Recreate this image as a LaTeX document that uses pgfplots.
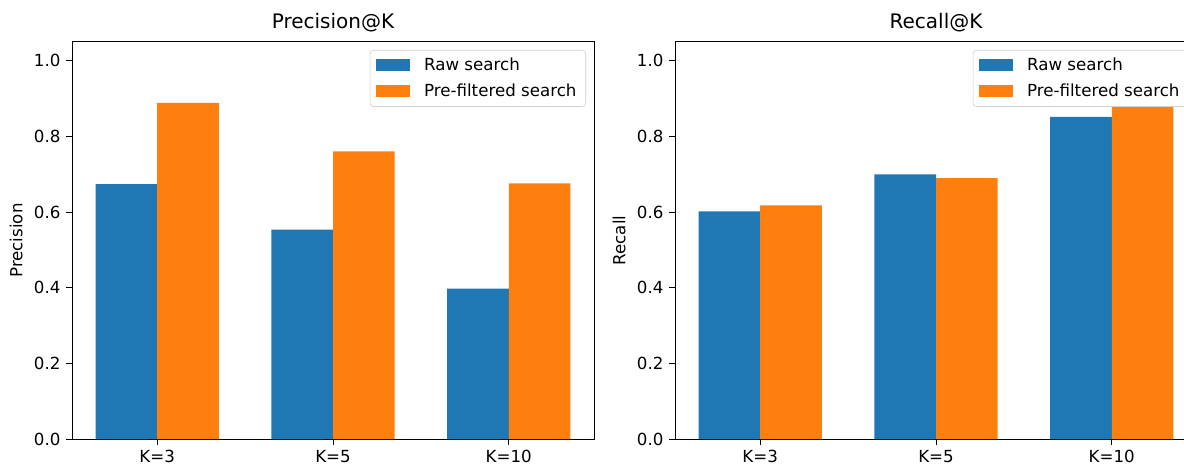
\documentclass[border=0pt]{standalone}
\usepackage{fontspec}
\setmainfont{DejaVu Sans}
\usepackage{pgfplots}
\pgfplotsset{compat=1.18}
\definecolor{cA}{HTML}{1F77B4}
\definecolor{cB}{HTML}{FF7F0E}
\pgfplotsset{
  myax/.style={
    scale only axis, width=313.2pt, height=238.2pt, anchor=south west,
    xmin=-0.485, xmax=2.485, ymin=0, ymax=1.05,
    xtick={0,1,2}, xticklabels={K=3,K=5,K=10},
    ytick={0,0.2,0.4,0.6,0.8,1.0},
    yticklabel style={/pgf/number format/.cd,fixed,fixed zerofill,precision=1},
    /pgf/number format/assume math mode=true,
    tick align=outside, major tick length=3.4pt, tick pos=left,
    axis line style={line width=0.6pt}, every tick/.style={line width=0.6pt, black},
    tick label style={font=\fontsize{10}{12}\selectfont},
    label style={font=\fontsize{10}{12}\selectfont},
    title style={font=\fontsize{12}{14}\selectfont, yshift=-3.5pt},
    ybar, bar width=0.35,
    legend style={at={(1,1)}, anchor=north east, xshift=-4.8pt, yshift=-4.8pt,
      draw=black!18, rounded corners=2pt, fill=white, font=\fontsize{10}{12}\selectfont,
      inner xsep=3.5pt, inner ysep=2.5pt, row sep=2.5pt, column sep=6.5pt},
    legend cell align=left,
    legend image code/.code={\fill[##1, sharp corners] (0pt,-3.6pt) rectangle (20.4pt,3.6pt);},
  }
}
\begin{document}
\begin{tikzpicture}
\begin{scope}
\clip (0,0) rectangle (710.4pt,279pt);
\begin{axis}[myax, at={(43.2pt,15.6pt)}, title={Precision@K}, ylabel={Precision}]
\addplot[fill=cA, draw=none, bar shift=-0.175] coordinates {(0,0.674) (1,0.554) (2,0.398)};
\addplot[fill=cB, draw=none, bar shift=0.175] coordinates {(0,0.889) (1,0.761) (2,0.676)};
\legend{Raw search, Pre-filtered search}
\end{axis}
\begin{axis}[myax, at={(405pt,15.6pt)}, title={Recall@K}, ylabel={Recall}]
\addplot[fill=cA, draw=none, bar shift=-0.175] coordinates {(0,0.602) (1,0.700) (2,0.852)};
\addplot[fill=cB, draw=none, bar shift=0.175] coordinates {(0,0.618) (1,0.690) (2,0.881)};
\legend{Raw search, Pre-filtered search}
\end{axis}
\end{scope}
\pgfresetboundingbox
\path[use as bounding box] (0,0) rectangle (710.4pt,279pt);
\end{tikzpicture}
\end{document}
